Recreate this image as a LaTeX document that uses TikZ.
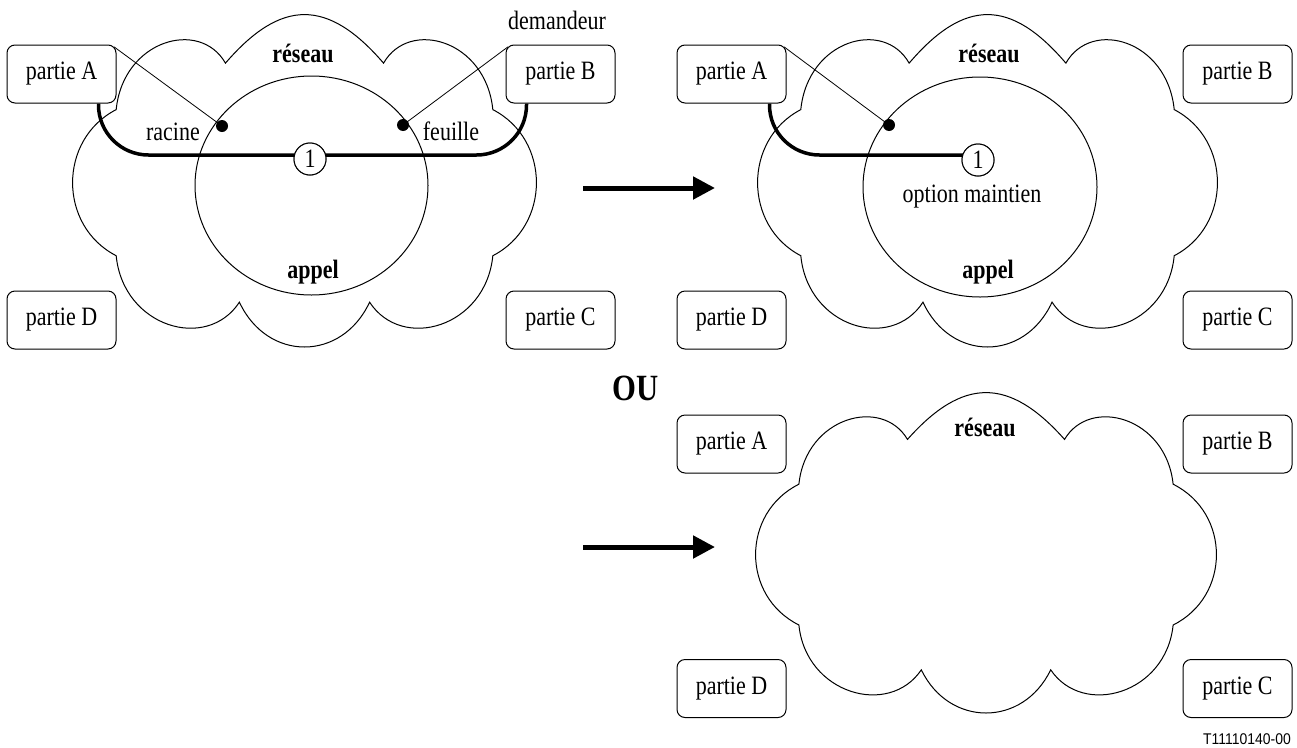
\documentclass[tikz,border=0pt]{standalone}
\usepackage{fontspec}
\setmainfont{Liberation Serif}[FakeStretch=0.83]
\newfontfamily\labelsans{Liberation Sans}[FakeStretch=0.9]
\usetikzlibrary{arrows.meta,calc,shapes.geometric}
\newcommand\cloudshape[5]{%
  \draw[cloudline,shift={(#2,#3)},xscale=#4,yscale=-#5]
    (0.34,0.71) .. controls (0.10,1.10) and (-0.10,1.10) .. (-0.34,0.71)
    .. controls (-0.45,0.98) and (-0.78,0.85) .. (-0.81,0.43)
    .. controls (-1.06,0.25) and (-1.06,-0.27) .. (-0.81,-0.45)
    .. controls (-0.78,-0.88) and (-0.42,-1.03) .. (-0.28,-0.73)
    .. controls (-0.16,-1.09) and (0.16,-1.09) .. (0.28,-0.73)
    .. controls (0.42,-1.03) and (0.78,-0.88) .. (0.81,-0.45)
    .. controls (1.06,-0.27) and (1.06,0.25) .. (0.81,0.43)
    .. controls (0.78,0.85) and (0.45,0.98) .. (0.34,0.71) -- cycle;
  \coordinate (#1) at (#2,#3);}
\begin{document}
\begin{tikzpicture}[x=1pt,y=-1pt,
  every node/.style={font=\fontsize{26.5}{30}\selectfont, inner sep=0pt},
  party/.style={draw, rounded corners=8pt, line width=1pt, fill=white,
                minimum width=109pt, minimum height=58pt},
  cloudline/.style={line width=1pt},
  callell/.style={draw, ellipse, line width=1pt},
  heavy/.style={line width=3.5pt, rounded corners=50pt},
  thinline/.style={line width=0.8pt},
  dotnode/.style={circle, fill=black, minimum size=12pt},
  numcirc/.style={circle, draw, fill=white, line width=1pt, minimum size=32pt},
  boldlbl/.style={font=\fontsize{26.5}{30}\selectfont\bfseries},
  bigarrow/.style={line width=5pt, -{Triangle[length=22pt,width=22pt]}},
]
\useasboundingbox (0,0) rectangle (1297,747);

% ---------------- top-left diagram ----------------
\cloudshape{cloud1}{304.5}{181}{232.5}{166}
\node[callell, minimum width=233pt, minimum height=219pt] (call1) at (311.5,185.5) {};
\node[party] (pA1) at (61.5,74) {partie A};
\node[party] (pB1) at (560.5,74) {partie B};
\node[party] (pD1) at (61.5,320) {partie D};
\node[party] (pC1) at (560.5,320) {partie C};
\node (dem) at (557,20) {demandeur};
\node[boldlbl] (res1) at (303,53) {réseau};
\node[boldlbl] (app1) at (313,272) {appel};
\coordinate (hA1) at ($(pA1.south east)+(-18,0)$);
\coordinate (hB1) at ($(pB1.south west)+(21,0)$);
\node[numcirc] (one1) at (310,159) {1};
\draw[heavy] (hA1) |- ($(one1.center)+(0,-4)$) -| (hB1);
\node[numcirc] at (one1) {1};
\node[dotnode] (rac1) at (222,126) {};
\node[dotnode] (feu1) at (403,125) {};
\draw[thinline] ($(pA1.north east)+(-2.4,2.4)$) -- (rac1.center);
\draw[thinline] ($(pB1.north west)+(2.4,2.4)$) -- (feu1.center);
\node (lrac1) at (173,132) {racine};
\node (lfeu1) at (451,131) {feuille};

% arrow 1
\coordinate (a1s) at (583,188);
\coordinate (a1e) at (715,188);
\draw[bigarrow] (a1s) -- (a1e);

% ---------------- top-right diagram ----------------
\cloudshape{cloud2}{987.5}{181}{230.5}{166}
\node[callell, minimum width=234pt, minimum height=220pt] (call2) at (980,187) {};
\node[party] (pA2) at (731.5,74) {partie A};
\node[party] (pB2) at (1237.5,74) {partie B};
\node[party] (pD2) at (731.5,320) {partie D};
\node[party] (pC2) at (1237.5,320) {partie C};
\node[boldlbl] (res2) at (989,53) {réseau};
\node[boldlbl] (app2) at (988,272) {appel};
\coordinate (hA2) at ($(pA2.south east)+(-17,0)$);
\node[numcirc] (one2) at (978,160) {1};
\draw[heavy] (hA2) |- ($(one2.center)+(0,-5)$);
\node[numcirc] at (one2) {1};
\node[dotnode] (rac2) at (889,125) {};
\draw[thinline] ($(pA2.north east)+(-2.4,2.4)$) -- (rac2.center);
\node (opt2) at (972,197) {option maintien};

% OU
\node[font=\fontsize{37}{42}\selectfont\bfseries] (ou) at (636,388) {OU};

% arrow 2
\coordinate (a2s) at (583,547);
\coordinate (a2e) at (715,547);
\draw[bigarrow] (a2s) -- (a2e);

% ---------------- bottom diagram ----------------
\cloudshape{cloud3}{986}{553}{231}{160}
\node[party] (pA3) at (731.5,444) {partie A};
\node[party] (pB3) at (1237.5,444) {partie B};
\node[party] (pD3) at (731.5,688.5) {partie D};
\node[party] (pC3) at (1237.5,688.5) {partie C};
\node[boldlbl] (res3) at (985,427) {réseau};

\node[font=\fontsize{15.5}{18}\selectfont\labelsans, anchor=east] (tag) at (1291,739) {T11110140-00};
\end{tikzpicture}
\end{document}
